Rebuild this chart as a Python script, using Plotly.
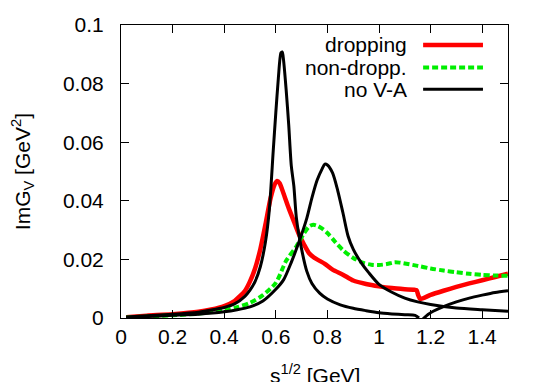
import plotly.graph_objects as go

# sqrt(s) [GeV] and Im G_V [GeV^2]
x_drop = [0.02, 0.1, 0.2, 0.3, 0.35, 0.4, 0.44, 0.48, 0.5, 0.52, 0.54, 0.56, 0.58, 0.595, 0.605,
          0.615, 0.63, 0.65, 0.67, 0.69, 0.71, 0.73, 0.75, 0.77, 0.79, 0.82, 0.86, 0.9, 0.95, 1.0,
          1.05, 1.1, 1.145, 1.152, 1.16, 1.2, 1.25, 1.3, 1.35, 1.4, 1.45, 1.5]
y_drop = [0.0003, 0.0008, 0.0013, 0.0021, 0.0029, 0.0041, 0.0058, 0.0092, 0.0125, 0.017, 0.0235,
          0.032, 0.041, 0.0455, 0.0468, 0.046, 0.0425, 0.0375, 0.033, 0.0285, 0.025, 0.022, 0.0205,
          0.0195, 0.0185, 0.0165, 0.0148, 0.0128, 0.0116, 0.0108, 0.0102, 0.0098, 0.0095, 0.0078,
          0.0065, 0.0079, 0.0093, 0.0106, 0.0118, 0.0129, 0.014, 0.0151]

x_nondrop = [0.02, 0.1, 0.2, 0.3, 0.4, 0.45, 0.5, 0.55, 0.6, 0.64, 0.68, 0.71, 0.73, 0.745, 0.76,
             0.78, 0.8, 0.83, 0.86, 0.9, 0.94, 0.97, 1.0, 1.03, 1.06, 1.08, 1.1, 1.15, 1.2, 1.25,
             1.3, 1.35, 1.4, 1.45, 1.5]
y_nondrop = [0.0002, 0.0005, 0.0009, 0.0015, 0.0027, 0.0037, 0.0052, 0.0078, 0.012, 0.0195, 0.0245,
             0.029, 0.0313, 0.0318, 0.0315, 0.0305, 0.029, 0.026, 0.0232, 0.0205, 0.0188, 0.0182,
             0.0181, 0.0184, 0.019, 0.0189, 0.0186, 0.0178, 0.0169, 0.0162, 0.0156, 0.0151, 0.0147,
             0.0145, 0.0144]

# "no V-A": three black pieces
x_nova1 = [0.02, 0.1, 0.2, 0.3, 0.35, 0.4, 0.44, 0.48, 0.5, 0.52, 0.54, 0.56, 0.575, 0.59, 0.6,
           0.61, 0.62, 0.625, 0.63, 0.64, 0.65, 0.66, 0.67, 0.68, 0.7, 0.72, 0.74, 0.77, 0.8, 0.85,
           0.9, 0.95, 1.0, 1.05, 1.1, 1.14, 1.155]
y_nova1 = [0.0003, 0.0008, 0.0013, 0.002, 0.0027, 0.0036, 0.0048, 0.0074, 0.0095, 0.0125, 0.0175,
           0.026, 0.037, 0.057, 0.07, 0.082, 0.0905, 0.0908, 0.088, 0.078, 0.066, 0.052, 0.045,
           0.034, 0.0235, 0.016, 0.0118, 0.0085, 0.0065, 0.0045, 0.0033, 0.0025, 0.0018, 0.0014,
           0.0011, 0.0009, 0.0]

x_nova2 = [0.02, 0.1, 0.2, 0.3, 0.4, 0.45, 0.5, 0.55, 0.6, 0.63, 0.66, 0.69, 0.72, 0.74, 0.76,
           0.78, 0.79, 0.8, 0.82, 0.84, 0.86, 0.88, 0.9, 0.93, 0.96, 1.0, 1.05, 1.1, 1.15, 1.2,
           1.3, 1.4, 1.5]
y_nova2 = [0.0002, 0.0005, 0.0009, 0.0013, 0.0021, 0.0028, 0.0038, 0.0058, 0.0098, 0.013, 0.019,
           0.026, 0.034, 0.041, 0.047, 0.051, 0.0525, 0.0522, 0.0495, 0.0435, 0.036, 0.028, 0.0235,
           0.019, 0.0155, 0.0115, 0.0088, 0.0068, 0.0055, 0.0046, 0.0034, 0.0028, 0.0023]

x_nova3 = [1.17, 1.19, 1.21, 1.25, 1.3, 1.35, 1.4, 1.45, 1.5]
y_nova3 = [-0.0004, 0.0012, 0.0023, 0.0039, 0.0055, 0.0068, 0.0078, 0.0087, 0.0093]

legend_names = ["dropping", "non-dropp.", "no V-A"]
legend_colors = ["#ff0000", "#00ee00", "#000000"]
legend_dash = ["solid", "6px,3px", "solid"]
legend_widths = [4.5, 4, 3]
legend_y = [0.0932, 0.0855, 0.0781]

FONT = "Liberation Sans, Arial, Helvetica, sans-serif"
FS = 21

fig = go.Figure()
fig.add_trace(go.Scatter(x=x_drop, y=y_drop, mode="lines",
                         line=dict(color="#ff0000", width=4.5, shape="spline", smoothing=0.6)))
fig.add_trace(go.Scatter(x=x_nondrop, y=y_nondrop, mode="lines",
                         line=dict(color="#00ee00", width=4, dash="6px,3px",
                                   shape="spline", smoothing=0.8)))
for xs, ys in [(x_nova1, y_nova1), (x_nova2, y_nova2), (x_nova3, y_nova3)]:
    fig.add_trace(go.Scatter(x=xs, y=ys, mode="lines",
                             line=dict(color="black", width=3, shape="spline", smoothing=0.7)))

# gnuplot-style key: text on the left, line sample on the right
for name, col, dash, w, yk in zip(legend_names, legend_colors, legend_dash, legend_widths, legend_y):
    fig.add_annotation(x=1.118, y=yk, text=name, showarrow=False, xanchor="right",
                       yanchor="middle", font=dict(size=FS, color="black", family=FONT))
    fig.add_shape(type="line", x0=1.171, x1=1.403, y0=yk, y1=yk,
                  line=dict(color=col, width=w, dash=dash))

# axis titles
fig.add_annotation(xref="paper", yref="paper", x=0.5, y=-0.19, yanchor="middle",
                   text="s<sup>1/2</sup> [GeV]", showarrow=False,
                   font=dict(size=FS, color="black", family=FONT))
fig.add_annotation(xref="paper", yref="paper", x=-0.254, y=0.5, xanchor="center",
                   text="ImG<sub>V</sub> [GeV<sup>2</sup>]", showarrow=False, textangle=-90,
                   font=dict(size=FS, color="black", family=FONT))

# page body has an 8px margin, so the figure is a little smaller than the window
fig.update_layout(
    width=537, height=374,
    margin=dict(l=112.5, r=36.7, t=17, b=63.7),
    plot_bgcolor="white", paper_bgcolor="white",
    showlegend=False,
    font=dict(family=FONT, size=FS, color="black"),
)
fig.update_xaxes(
    range=[0, 1.5], dtick=0.2, tick0=0, showgrid=False, zeroline=False,
    showline=True, linecolor="black", linewidth=1, mirror="ticks",
    ticks="inside", ticklen=8, tickcolor="black", automargin=False,
)
fig.update_yaxes(
    range=[0, 0.1], dtick=0.02, showgrid=False, zeroline=False,
    showline=True, linecolor="black", linewidth=1, mirror="ticks",
    ticks="inside", ticklen=8, tickcolor="black", ticklabelstandoff=12,
    automargin=False,
)

fig.write_html("out.html")
